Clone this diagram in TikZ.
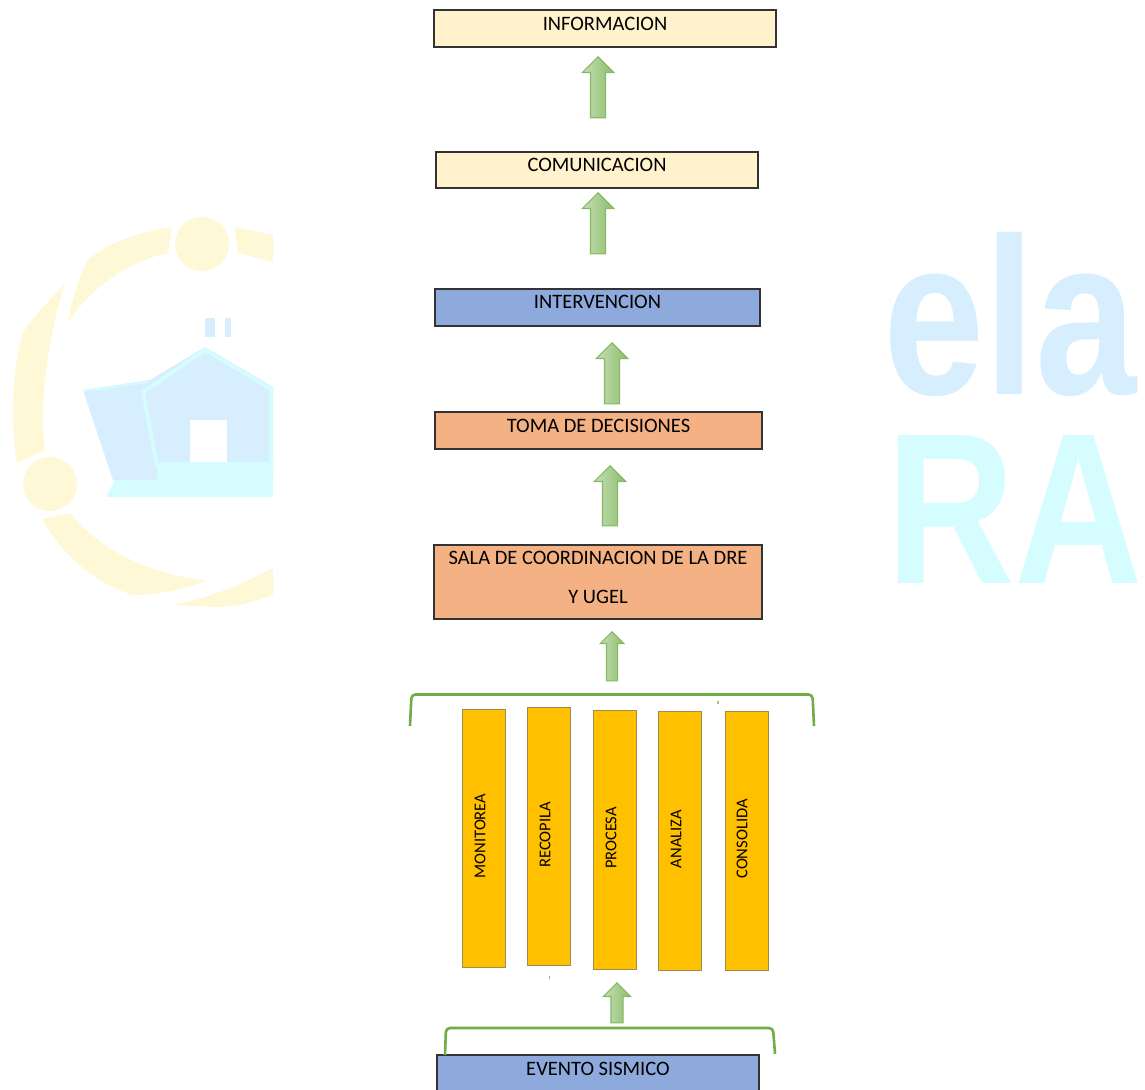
\documentclass[tikz,border=0pt]{standalone}
\usepackage{fontspec}
\setmainfont{Carlito}
\newfontfamily\markfont{Liberation Sans}[BoldFont={Liberation Sans Bold}]
\usetikzlibrary{shapes.arrows}
\definecolor{cream}{HTML}{FFF2CC}
\definecolor{steel}{HTML}{8EA9DB}
\definecolor{salmon}{HTML}{F4B183}
\definecolor{amber}{HTML}{FFC000}
\definecolor{leaf}{HTML}{70AD47}
\definecolor{coledge}{HTML}{A08C50}
\definecolor{markyellow}{HTML}{FFF8D6}
\definecolor{markblue}{HTML}{D6EEFD}
\definecolor{markcyan}{HTML}{D5FDFF}
\newcommand{\boxtext}[2]{\raisebox{#1}[0pt][0pt]{#2}}
\tikzset{
  flowbox/.style={draw=black!80,line width=1.2pt,inner sep=0pt,font=\fontsize{20.5}{22}\selectfont,text=black},
  colbox/.style={draw=coledge,line width=1pt,fill=amber,inner sep=0pt,minimum width=43pt},
  coltext/.style={inner sep=0pt,rotate=90,font=\fontsize{16.5}{18}\selectfont,text=black},
  upblock/.style={single arrow,rotate=90,anchor=tip,draw=leaf!85,line width=1.2pt,inner sep=0pt,
    single arrow tip angle=90,text depth=0pt,left color=leaf!40,right color=leaf!80},
  bracket/.style={draw=leaf,line width=2.6pt,rounded corners=4pt},
  markshape/.style={draw=none},
}
\begin{document}
\begin{tikzpicture}[x=1pt,y=-1pt]
\useasboundingbox (0,0) rectangle (1145,1089);
% watermark, left
\fill[markyellow] (202,244) circle (27);
\fill[markyellow] (50,484) circle (27);
\fill[markyellow] (172,227) .. controls (150,230) and (110,240) .. (88,260) .. controls (78,280) and (72,300) .. (68,322) .. controls (90,290) and (125,262) .. (168,253) -- cycle;
\fill[markyellow] (65,283) .. controls (50,300) and (30,320) .. (23,333) .. controls (12,370) and (10,420) .. (17,463) -- (45,450) .. controls (38,400) and (50,330) .. cycle;
\fill[markyellow] (42,519) -- (70,513) .. controls (100,550) and (150,575) .. (207,580) .. controls (185,590) and (155,595) .. (133,595) .. controls (100,585) and (65,560) .. cycle;
\fill[markyellow] (170,605) .. controls (205,600) and (240,585) .. (273,568) -- (273,595) .. controls (255,602) and (235,607) .. (217,607) -- cycle;
\fill[markyellow] (235,227) -- (273,235) -- (273,262) -- (238,253) -- cycle;
\fill[markblue] (83,390) -- (150,380) -- (205,347) -- (273,387) -- (273,480) -- (113,480) -- cycle;
\draw[markcyan,line width=4pt] (157,466) -- (143,392) -- (205,350) -- (271,389) -- (271,470);
\draw[markcyan,line width=2pt] (84,391) -- (148,382);
\fill[markcyan] (106,497) -- (115,480) -- (157,480) -- (157,462) -- (273,462) -- (273,497) -- cycle;
\fill[white] (190,420) rectangle (227,462);
\fill[markblue] (205,318) rectangle (215,337);
\fill[markblue] (225,318) rectangle (231,337);
% watermark, right
\node[markshape,anchor=north west,inner sep=0pt,text=markblue] (markela) at (883,232)
  {\resizebox{253pt}{162pt}{\markfont\bfseries ela}};
\node[markshape,anchor=north west,inner sep=0pt,text=markcyan] (markra) at (886,435)
  {\resizebox{257pt}{148pt}{\markfont\bfseries RA}};
% flow boxes
\node[flowbox,fill=cream,minimum width=342pt,minimum height=37pt] (info) at (605,28.5) {\boxtext{-2pt}{INFORMACION}};
\node[flowbox,fill=cream,minimum width=322pt,minimum height=36pt] (comu) at (597,170) {\boxtext{-1pt}{COMUNICACION}};
\node[flowbox,fill=steel,minimum width=325pt,minimum height=37pt] (inter) at (597.5,307.5) {\boxtext{-1pt}{INTERVENCION}};
\node[flowbox,fill=salmon,minimum width=327pt,minimum height=37pt] (toma) at (598.5,430.5) {\boxtext{-2pt}{TOMA DE DECISIONES}};
\node[flowbox,fill=salmon,minimum width=328pt,minimum height=74pt] (sala) at (598,582)
  {\raisebox{-2.5pt}[0pt][0pt]{\begin{tabular}{@{}c@{}}SALA DE COORDINACION DE LA DRE\\[17pt]Y UGEL\end{tabular}}};
\node[flowbox,fill=steel,minimum width=322pt,minimum height=36pt] (evento) at (598,1073) {\boxtext{-2pt}{EVENTO SISMICO}};
% columns
\node[colbox,minimum height=258pt] (c1) at (483.5,838) {};
\node[colbox,minimum height=258pt] (c2) at (548.5,836) {};
\node[colbox,minimum height=259pt] (c3) at (614.5,839.5) {};
\node[colbox,minimum height=259pt] (c4) at (679.5,840.5) {};
\node[colbox,minimum height=259pt] (c5) at (746.5,840.5) {};
\node[coltext] (t1) at (480,836) {MONITOREA};
\node[coltext] (t2) at (545,835) {RECOPILA};
\node[coltext] (t3) at (611,838) {PROCESA};
\node[coltext] (t4) at (676,839) {ANALIZA};
\node[coltext] (t5) at (742,839) {CONSOLIDA};
% brackets
\draw[bracket] (410,726) -- (411.5,694.5) -- (812.5,694.5) -- (814,726);
\draw[bracket] (445,1055) -- (446,1028) -- (773,1028) -- (775,1054);
% arrows
\node[upblock,minimum height=61pt,text height=14pt,single arrow head extend=8pt] (a1) at (598,56) {};
\node[upblock,minimum height=61pt,text height=14pt,single arrow head extend=8pt] (a2) at (598,192) {};
\node[upblock,minimum height=61pt,text height=14pt,single arrow head extend=8pt] (a3) at (612,342) {};
\node[upblock,minimum height=60pt,text height=14pt,single arrow head extend=8pt] (a4) at (610,465) {};
\node[upblock,minimum height=49pt,text height=10pt,single arrow head extend=6pt] (a5) at (612,631) {};
\node[upblock,minimum height=40pt,text height=11pt,single arrow head extend=7.5pt] (a6) at (617,982) {};
% specks
\fill[leaf!70] (717,700.5) rectangle (719,703.5);
\fill[black!35] (548.5,975.5) rectangle (550,979);
\end{tikzpicture}
\end{document}
